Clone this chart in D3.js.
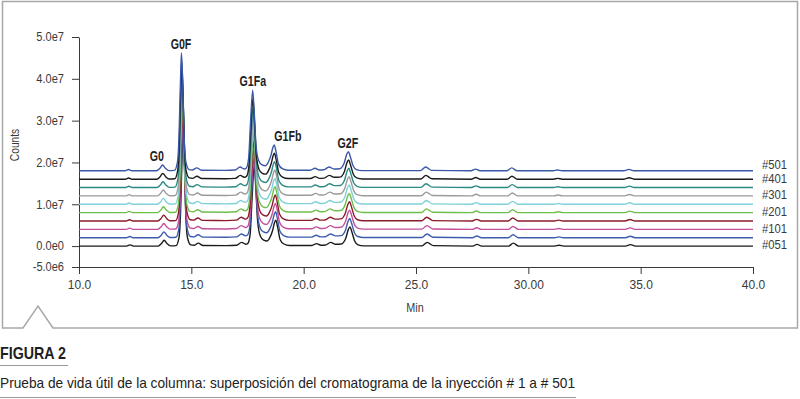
<!DOCTYPE html>
<html lang="es">
<head>
<meta charset="UTF-8" />
<title>Figura 2</title>
<style>
  body { margin: 0; background: #fff; }
  svg { display: block; }
</style>
</head>
<body>
<script src="https://cdnjs.cloudflare.com/ajax/libs/d3/7.8.5/d3.min.js"></script>
<script>

// injection traces, bottom to top
var traceNames = ["#051", "", "#101", "", "#201", "", "#301", "", "#401", "#501"];
var traceOffsets = [0, 2e6, 4e6, 6e6, 8e6, 1.0e7, 1.2e7, 1.4e7, 1.6e7, 1.8e7];
var traceShift = [0.07, 0.06, 0.055, 0.05, 0.04, 0.035, 0.03, 0.02, 0.01, 0];
var traceColors = ["#1b1b1b", "#3d5cad", "#c3509b", "#8a1c2a", "#6dbf4b",
                   "#80d0d8", "#9b9b9b", "#2a8a82", "#1b1b1b", "#3a58a8"];

// chromatogram shape (minutes, counts above the trace baseline)
var profileTime = [10, 12.05, 12.2, 12.35, 13.45, 13.6, 13.72, 13.85, 14.0,
  14.25, 14.38, 14.45, 14.52, 14.56, 14.61, 14.68, 14.76, 14.9,
  15.05, 15.24, 15.45, 16.5, 16.95, 17.17, 17.35,
  17.45, 17.55, 17.63, 17.73, 17.8, 17.88, 18.0, 18.15, 18.3,
  18.42, 18.55, 18.63, 18.69, 18.77, 18.88, 19.05, 19.3,
  20.3, 20.5, 20.7, 20.9, 21.13, 21.35,
  21.6, 21.8, 21.92, 21.99, 22.07, 22.2, 22.35, 22.6,
  25.2, 25.43, 25.7, 27.45, 27.65, 27.85, 29.05, 29.26, 29.5,
  31.1, 31.3, 31.5, 34.25, 34.48, 34.7, 40];
var profileCounts = [0, 0, 0.3e6, 0, 0, 0.6e6, 1.4e6, 0.6e6, 0.05e6,
  0.1e6, 2e6, 8e6, 22e6, 28.2e6, 22e6, 8e6, 2e6, 0.3e6,
  0.2e6, 0.7e6, 0.15e6, 0.1e6, 0.2e6, 0.9e6, 0.45e6,
  0.7e6, 3e6, 11e6, 19.3e6, 14e6, 6e6, 2.4e6, 1.4e6, 1.2e6,
  2e6, 3.8e6, 5.6e6, 6.2e6, 4.6e6, 1.6e6, 0.5e6, 0.15e6,
  0.15e6, 0.6e6, 0.2e6, 0.25e6, 0.9e6, 0.45e6,
  0.5e6, 1.8e6, 4e6, 4.6e6, 3.5e6, 1.2e6, 0.3e6, 0.05e6,
  0.05e6, 0.9e6, 0.1e6, 0, 0.4e6, 0, 0, 0.7e6, 0,
  0, 0.2e6, 0, 0, 0.35e6, 0, 0];

// peak annotations
var peakNames = ["G0", "G0F", "G1Fa", "G1Fb", "G2F"];
var peakTimes = [13.72, 14.56, 17.73, 18.69, 21.99];
var peakLabelTimes = [13.47, 14.54, 17.74, 19.3, 21.97];

var xTickValues = [10, 15, 20, 25, 30, 35, 40];
var xTickLabels = ["10.0", "15.0", "20.0", "25.0", "30.00", "35.0", "40.0"];
var yTickValues = [5e7, 4e7, 3e7, 2e7, 1e7, 0, -5e6];
var yTickLabels = ["5.0e7", "4.0e7", "3.0e7", "2.0e7", "1.0e7", "0.0e0", "-5.0e6"];

var figTitle = "FIGURA 2";
var figCaption = "Prueba de vida útil de la columna: superposición del cromatograma de la inyección # 1 a # 501";

var width = 800, height = 399;
var chartFont = "'Liberation Sans', Arial, sans-serif";

var svg = d3.select("body").append("svg")
  .attr("width", width)
  .attr("height", height);

// squeeze a text horizontally (the original uses a condensed face)
function condense(sel, factor) {
  var w = sel.node().getComputedTextLength();
  sel.attr("textLength", w * factor).attr("lengthAdjust", "spacingAndGlyphs");
}

// grey frame with the little notch at bottom left
svg.append("path")
  .attr("d", "M23,328 L2.5,328 L2.5,1.5 L797.5,1.5 L797.5,328 L53,328 L38,306 Z")
  .attr("fill", "none")
  .attr("stroke", "#a8a8a8")
  .attr("stroke-width", 1.5);

var x = d3.scaleLinear().domain([10, 40]).range([79, 753]);
var y = d3.scaleLinear().domain([-5e6, 5e7]).range([267, 37]);

var xAxis = d3.axisBottom(x)
  .tickValues(xTickValues)
  .tickFormat(function(d, i) { return xTickLabels[i]; })
  .tickSize(7)
  .tickSizeOuter(0)
  .tickPadding(6);

var yAxis = d3.axisLeft(y)
  .tickValues(yTickValues)
  .tickFormat(function(d, i) { return yTickLabels[i]; })
  .tickSize(7)
  .tickSizeOuter(0)
  .tickPadding(8);

var gx = svg.append("g").attr("transform", "translate(0," + y(-5e6) + ")").call(xAxis);
var gy = svg.append("g").attr("transform", "translate(" + x(10) + ",0)").call(yAxis);

[gx, gy].forEach(function(g) {
  g.selectAll("path, line").attr("stroke", "#3a3a3a").attr("stroke-width", 1);
  g.selectAll("text")
    .attr("fill", "#3a3a3a")
    .style("font-family", chartFont)
    .style("font-size", "12px");
});
gy.selectAll("text").each(function() { condense(d3.select(this), 0.92); });

svg.append("text")
  .attr("x", x(25) - 1)
  .attr("y", 312)
  .attr("text-anchor", "middle")
  .attr("fill", "#3a3a3a")
  .style("font-family", chartFont)
  .style("font-size", "12px")
  .text("Min")
  .call(condense, 0.9);

svg.append("text")
  .attr("transform", "translate(19,145) rotate(-90)")
  .attr("text-anchor", "middle")
  .attr("fill", "#3a3a3a")
  .style("font-family", chartFont)
  .style("font-size", "12px")
  .text("Counts")
  .call(condense, 0.85);

// traces
var pts = profileTime.map(function(t, i) { return [t, profileCounts[i]]; });

var line = d3.line().curve(d3.curveMonotoneX);

traceOffsets.forEach(function(off, k) {
  line
    .x(function(d) { return x(d[0] === 10 || d[0] === 40 ? d[0] : d[0] + traceShift[k]); })
    .y(function(d) { return y(off + d[1]); });
  svg.append("path")
    .datum(pts)
    .attr("d", line)
    .attr("fill", "none")
    .attr("stroke", traceColors[k])
    .attr("stroke-width", 1.4)
    .attr("stroke-linejoin", "round");
});

// peak labels above top trace
var topOff = traceOffsets[traceOffsets.length - 1];
peakNames.forEach(function(name, i) {
  var idx = profileTime.indexOf(peakTimes[i]);
  svg.append("text")
    .attr("x", x(peakLabelTimes[i]))
    .attr("y", y(topOff + profileCounts[idx]) - 4)
    .attr("text-anchor", "middle")
    .attr("fill", "#1e1e1e")
    .style("font-family", chartFont)
    .style("font-weight", "bold")
    .style("font-size", "14px")
    .text(name)
    .call(condense, 0.76);
});

// injection labels on the right, kept from overlapping
var labelled = [];
traceNames.forEach(function(n, k) { if (n) labelled.push(k); });
var prevY = Infinity;
labelled.forEach(function(k) {
  var ly = Math.min(y(traceOffsets[k]) - 1, prevY - 13.5);
  prevY = ly;
  svg.append("text")
    .attr("x", 762)
    .attr("y", ly)
    .attr("dy", "0.35em")
    .attr("fill", "#3a3a3a")
    .style("font-family", chartFont)
    .style("font-size", "12.5px")
    .text(traceNames[k])
    .call(condense, 0.9);
});

// figure caption
svg.append("text")
  .attr("x", 0)
  .attr("y", 358.5)
  .attr("fill", "#1e1e1e")
  .style("font-family", chartFont)
  .style("font-weight", "bold")
  .style("font-size", "17px")
  .text(figTitle)
  .attr("textLength", 66)
  .attr("lengthAdjust", "spacingAndGlyphs");

svg.append("line")
  .attr("x1", 0).attr("x2", 68)
  .attr("y1", 365.5).attr("y2", 365.5)
  .attr("stroke", "#999").attr("stroke-width", 1);

svg.append("text")
  .attr("x", 0)
  .attr("y", 387.5)
  .attr("fill", "#222")
  .style("font-family", chartFont)
  .style("font-size", "15px")
  .text(figCaption)
  .attr("textLength", 575)
  .attr("lengthAdjust", "spacingAndGlyphs");

svg.append("line")
  .attr("x1", 0).attr("x2", 576)
  .attr("y1", 397.5).attr("y2", 397.5)
  .attr("stroke", "#999").attr("stroke-width", 1);

</script>
</body>
</html>
